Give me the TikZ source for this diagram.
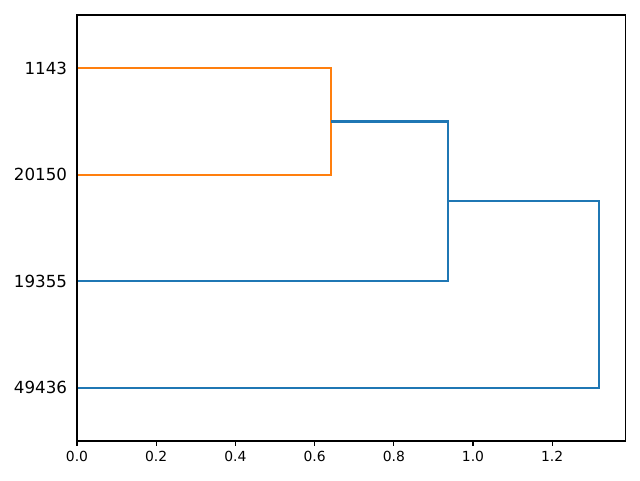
\documentclass[tikz,border=0pt]{standalone}
\usepackage{fontspec}
\setmainfont{DejaVu Sans}
\definecolor{tabblue}{HTML}{1F77B4}
\definecolor{taborange}{HTML}{FF7F0E}
\tikzset{
  link/.style={line width=1.5pt},
  spine/.style={line width=0.8pt, line cap=rect},
  xlab/.style={anchor=north, inner sep=0pt, font=\fontsize{10}{12}\selectfont},
  leaflab/.style={anchor=east, inner sep=0pt, font=\fontsize{12}{14}\selectfont},
}

\begin{document}
\begin{tikzpicture}[x=285.12pt,y=7.668pt]
	\useasboundingbox (-0.1944,-3.662) rectangle (1.4217,41.41);
	% leaves
	\coordinate (l1143) at (0,35);
	\coordinate (l20150) at (0,25);
	\coordinate (l19355) at (0,15);
	\coordinate (l49436) at (0,5);
	% joins
	\coordinate (j1) at (0.641,30);
	\coordinate (j2) at (0.936,22.5);
	\coordinate (j3) at (1.318,13.75);

	\draw[link,taborange] (l1143) -| (j1) |- (l20150);
	\draw[link,tabblue] (j1) -| (j2) |- (l19355);
	\draw[link,tabblue] (j2) -| (j3) |- (l49436);

	\node[leaflab] (t1143) at ([xshift=-7pt]l1143) {1143};
	\node[leaflab] (t20150) at ([xshift=-7pt]l20150) {20150};
	\node[leaflab] (t19355) at ([xshift=-7pt]l19355) {19355};
	\node[leaflab] (t49436) at ([xshift=-7pt]l49436) {49436};

	% frame and ticks
	\draw[spine] (0,0) rectangle (1.384,40);
	\foreach \v [count=\i from 0] in {0.0,0.2,0.4,0.6,0.8,1.0,1.2}
	  \draw[spine] (\v,0) -- ++(0,-3.5pt) coordinate (tk\i)
	    node[xlab, yshift=-3.5pt] (xl\i) {\v};
\end{tikzpicture}
\end{document}
